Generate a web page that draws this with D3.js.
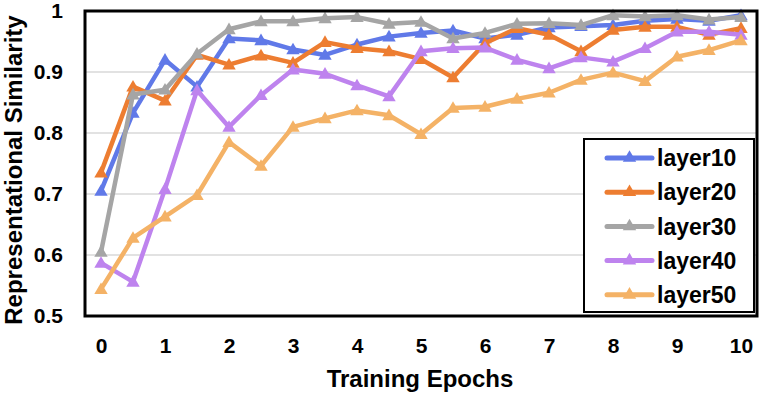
<!DOCTYPE html>
<html>
<head>
<meta charset="utf-8">
<script src="https://cdn.jsdelivr.net/npm/d3@7"></script>
<style>
  html, body { margin: 0; padding: 0; background: #fff; }
  svg { display: block; }
  text { font-family: Arial, "Liberation Sans", Helvetica, sans-serif; font-weight: bold; fill: #000; }
</style>
</head>
<body>
<svg id="chart" width="761" height="394"></svg>
<script>
const epochs = [0, 0.5, 1, 1.5, 2, 2.5, 3, 3.5, 4, 4.5, 5, 5.5, 6, 6.5, 7, 7.5, 8, 8.5, 9, 9.5, 10];
const xTickLabels = [0, 1, 2, 3, 4, 5, 6, 7, 8, 9, 10];
const yTickValues = [0.5, 0.6, 0.7, 0.8, 0.9, 1];
const seriesNames = ["layer10", "layer20", "layer30", "layer40", "layer50"];
const seriesColors = ["#6079E8", "#ED7D31", "#A5A5A5", "#BE83EE", "#F4B266"];

const layer10 = [0.705, 0.833, 0.920, 0.876, 0.955, 0.952, 0.937, 0.928, 0.945, 0.958, 0.964, 0.968, 0.955, 0.961, 0.973, 0.975, 0.977, 0.984, 0.987, 0.984, 0.993];
const layer20 = [0.735, 0.876, 0.853, 0.928, 0.912, 0.927, 0.915, 0.949, 0.939, 0.934, 0.921, 0.891, 0.947, 0.972, 0.961, 0.934, 0.969, 0.974, 0.974, 0.961, 0.972];
const layer30 = [0.605, 0.863, 0.871, 0.930, 0.970, 0.983, 0.983, 0.988, 0.990, 0.979, 0.982, 0.955, 0.964, 0.979, 0.980, 0.977, 0.993, 0.991, 0.993, 0.986, 0.990];
const layer40 = [0.587, 0.556, 0.708, 0.870, 0.810, 0.862, 0.904, 0.897, 0.878, 0.860, 0.934, 0.939, 0.940, 0.920, 0.906, 0.924, 0.917, 0.939, 0.966, 0.966, 0.961];
const layer50 = [0.544, 0.628, 0.663, 0.698, 0.785, 0.746, 0.810, 0.824, 0.837, 0.829, 0.798, 0.841, 0.843, 0.856, 0.866, 0.887, 0.899, 0.885, 0.925, 0.936, 0.952];

const seriesValues = [layer10, layer20, layer30, layer40, layer50];

const svg = d3.select("#chart");
const L = 85, R = 757, T = 11, B = 316;

const x = d3.scalePoint().domain(epochs).range([L, R]).padding(0.5);
const y = d3.scaleLinear().domain([0.5, 1]).range([B, T]);

// gridlines
svg.append("g").selectAll("line")
  .data(yTickValues.filter(v => v > 0.5 && v < 1))
  .join("line")
  .attr("x1", L).attr("x2", R)
  .attr("y1", d => y(d)).attr("y2", d => y(d))
  .attr("stroke", "#D9D9D9").attr("stroke-width", 1.5);

// y axis
const yAxis = svg.append("g")
  .attr("transform", `translate(${L},0)`)
  .call(d3.axisLeft(y).tickValues(yTickValues).tickSize(0).tickPadding(22).tickFormat(d3.format("")));
yAxis.select(".domain").remove();
yAxis.selectAll("text").style("font-size", "21px").style("font-family", "Arial, 'Liberation Sans', sans-serif").style("font-weight", "bold");

// x axis
const xAxis = svg.append("g")
  .attr("transform", `translate(0,${B})`)
  .call(d3.axisBottom(x).tickValues(xTickLabels).tickSize(0).tickPadding(22).tickFormat(d3.format("")));
xAxis.select(".domain").remove();
xAxis.selectAll("text").style("font-size", "21px").style("font-family", "Arial, 'Liberation Sans', sans-serif").style("font-weight", "bold");

// lines
const line = d3.line().x((d, i) => x(epochs[i])).y(d => y(d));
const tri = d3.symbol().type(d3.symbolTriangle).size(78);

seriesValues.forEach((vals, si) => {
  const g = svg.append("g");
  g.append("path")
    .datum(vals)
    .attr("d", line)
    .attr("fill", "none")
    .attr("stroke", seriesColors[si])
    .attr("stroke-width", 4.5)
    .attr("stroke-linejoin", "round")
    .attr("stroke-linecap", "round");
  g.selectAll("path.m")
    .data(vals)
    .join("path")
    .attr("class", "m")
    .attr("d", tri)
    .attr("transform", (d, i) => `translate(${x(epochs[i])},${y(d) + 1})`)
    .attr("fill", seriesColors[si]);
});

// plot border
svg.append("rect")
  .attr("x", L).attr("y", T).attr("width", R - L).attr("height", B - T)
  .attr("fill", "none").attr("stroke", "#000").attr("stroke-width", 3);

// legend
const lg = svg.append("g");
lg.append("rect")
  .attr("x", 584).attr("y", 139).attr("width", 170).attr("height", 173)
  .attr("fill", "#fff").attr("stroke", "#000").attr("stroke-width", 2);
seriesNames.forEach((name, i) => {
  const cy = 158 + i * 34.2;
  lg.append("line")
    .attr("x1", 607).attr("x2", 652).attr("y1", cy).attr("y2", cy)
    .attr("stroke", seriesColors[i]).attr("stroke-width", 5).attr("stroke-linecap", "round");
  lg.append("path")
    .attr("d", tri)
    .attr("transform", `translate(629.5,${cy})`)
    .attr("fill", seriesColors[i]);
  lg.append("text")
    .attr("x", 657).attr("y", cy).attr("dy", "0.36em")
    .style("font-size", "23px")
    .text(name);
});

// axis titles
svg.append("text")
  .attr("x", (L + R) / 2 - 1).attr("y", 387)
  .attr("text-anchor", "middle")
  .style("font-size", "24px")
  .text("Training Epochs");

svg.append("text")
  .attr("transform", "translate(21.5,170) rotate(-90)")
  .attr("text-anchor", "middle")
  .style("font-size", "24px")
  .text("Representational Similarity");
</script>
</body>
</html>
